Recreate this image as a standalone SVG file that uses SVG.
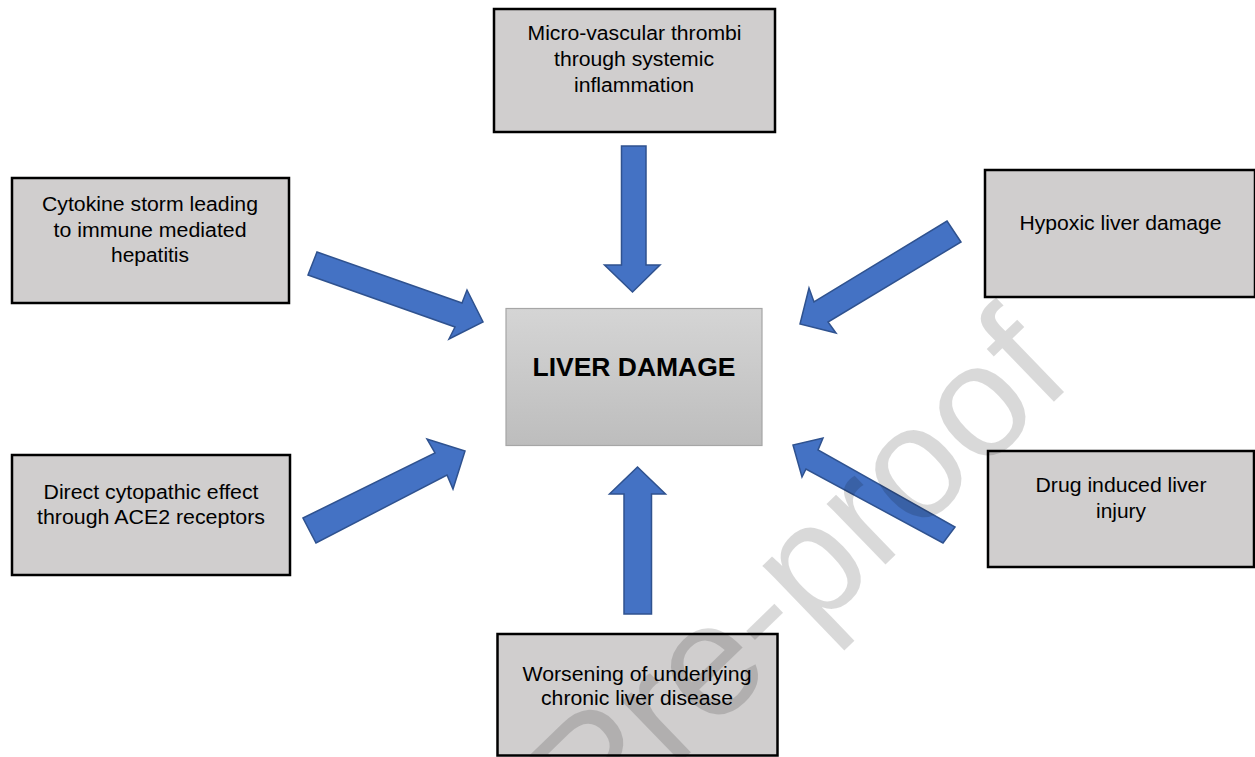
<svg xmlns="http://www.w3.org/2000/svg" width="1255" height="757" viewBox="0 0 1255 757">
  <style>
    .box { fill: #d0cece; stroke: #000; stroke-width: 2.5; }
    .t { font-family: "Liberation Sans", Arial, sans-serif; font-size: 20px; fill: #000; text-anchor: middle; }
    .tc { font-family: "Liberation Sans", Arial, sans-serif; font-size: 25px; font-weight: bold; fill: #000; text-anchor: middle; }
    .arrow { fill: #4472c4; stroke: #2f528f; stroke-width: 1.5; stroke-linejoin: miter; }
    .wm { font-family: "Liberation Sans", Arial, sans-serif; font-size: 160px; fill: #000; fill-opacity: 0.15; }
  </style>
  <defs>
    <linearGradient id="cg" x1="0" y1="0" x2="0" y2="1">
      <stop offset="0" stop-color="#d5d5d5"/>
      <stop offset="1" stop-color="#bdbdbd"/>
    </linearGradient>
  </defs>
  <rect width="1255" height="757" fill="#fff"/>

  <g id="connectors">
    <polygon class="arrow" points="621.5,146 646,146 646,265 660,265 632.5,292 604.5,265 621.5,265"/>
    <polygon class="arrow" points="624,614 651.5,614 651.5,494 665.5,494 637.5,467 609.5,494 624,494"/>
    <polygon class="arrow" points="317,252 462,303 467,290 483,322 449,339 455,327 308,275"/>
    <polygon class="arrow" points="303,518 435,453 427,439 465,451 453,489 447,475 316,543"/>
    <polygon class="arrow" points="947,221 961,242 828,322 836,333 800,324 809,288 814,302"/>
    <polygon class="arrow" points="955,527 943,543 806,469 802,477 793,445 823,438 818,450"/>
  </g>

  <g id="node-center">
    <rect x="506" y="308.5" width="256" height="137" fill="url(#cg)" stroke="#a6a6a6" stroke-width="1.2"/>
    <text class="tc" x="634" y="376" textLength="203" lengthAdjust="spacingAndGlyphs">LIVER DAMAGE</text>
  </g>

  <g id="node-microvascular">
    <rect class="box" x="494" y="9" width="281" height="123"/>
    <text class="t" x="634.5" y="39.5" textLength="214" lengthAdjust="spacingAndGlyphs">Micro-vascular thrombi</text>
    <text class="t" x="634" y="65.5" textLength="160" lengthAdjust="spacingAndGlyphs">through systemic</text>
    <text class="t" x="634" y="91.5" textLength="120" lengthAdjust="spacingAndGlyphs">inflammation</text>
  </g>

  <g id="node-cytokine">
    <rect class="box" x="12" y="178" width="277" height="125"/>
    <text class="t" x="150" y="210.5" textLength="216" lengthAdjust="spacingAndGlyphs">Cytokine storm leading</text>
    <text class="t" x="150" y="236.5" textLength="193" lengthAdjust="spacingAndGlyphs">to immune mediated</text>
    <text class="t" x="150" y="262" textLength="78" lengthAdjust="spacingAndGlyphs">hepatitis</text>
  </g>

  <g id="node-direct">
    <rect class="box" x="12" y="455" width="278" height="120"/>
    <text class="t" x="151" y="498.5" textLength="215" lengthAdjust="spacingAndGlyphs">Direct cytopathic effect</text>
    <text class="t" x="151" y="523.5" textLength="228" lengthAdjust="spacingAndGlyphs">through ACE2 receptors</text>
  </g>

  <g id="node-hypoxic">
    <rect class="box" x="985" y="170" width="270" height="127"/>
    <text class="t" x="1120.5" y="230" textLength="202" lengthAdjust="spacingAndGlyphs">Hypoxic liver damage</text>
  </g>

  <g id="node-drug">
    <rect class="box" x="988" y="451" width="266" height="116"/>
    <text class="t" x="1121" y="492" textLength="171" lengthAdjust="spacingAndGlyphs">Drug induced liver</text>
    <text class="t" x="1121" y="518" textLength="50" lengthAdjust="spacingAndGlyphs">injury</text>
  </g>

  <g id="node-worsening">
    <rect class="box" x="497.5" y="634" width="280" height="121.5"/>
    <text class="t" x="637" y="681" textLength="229" lengthAdjust="spacingAndGlyphs">Worsening of underlying</text>
    <text class="t" x="637" y="704.5" textLength="192" lengthAdjust="spacingAndGlyphs">chronic liver disease</text>
  </g>

  <text class="wm" x="596" y="844" transform="rotate(-44 596 844)">Pre-proof</text>
</svg>
